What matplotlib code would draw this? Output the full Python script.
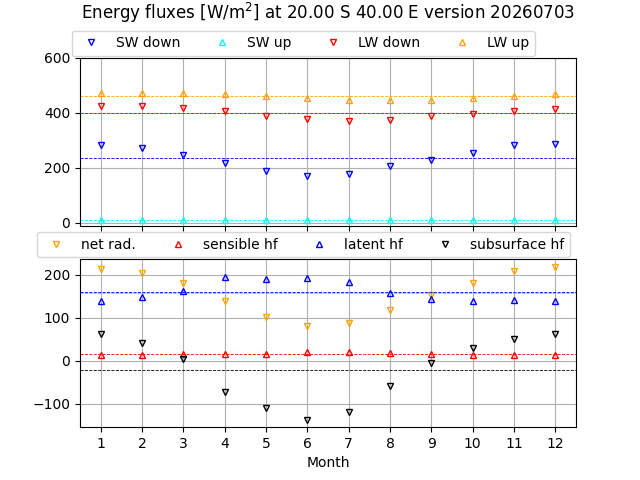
import numpy as np
import matplotlib
matplotlib.use('Agg')
import matplotlib.pyplot as plt

months = np.arange(1, 13)

# radiation components [W/m2]
sw_down = [281, 271, 248, 216, 187, 169, 179, 205, 228, 252, 281, 288]
sw_up = [9, 9, 9, 9, 9, 9, 9, 9, 9, 9, 9, 9]
lw_down = [423, 423, 418, 405, 387, 376, 368, 372, 387, 396, 405, 415]
lw_up = [471, 471, 471, 468, 459, 452, 445, 445, 445, 453, 459, 468]

# surface energy balance [W/m2]
net_rad = [214, 205, 182, 140, 103, 81, 89, 119, 153, 182, 210, 219]
sensible = [13, 13, 16, 16, 16, 20, 20, 17, 15, 13, 13, 13]
latent = [139, 148, 162, 196, 191, 193, 184, 157, 143, 140, 142, 140]
subsurface = [63, 42, 4, -73, -109, -137, -119, -58, -6, 29, 51, 63]

fig, (ax1, ax2) = plt.subplots(2, 1, figsize=(6.4, 4.8), dpi=100, sharex=True)

top_series = [
    (sw_down, 'v', 'blue', 'SW down'),
    (sw_up, '^', 'cyan', 'SW up'),
    (lw_down, 'v', 'red', 'LW down'),
    (lw_up, '^', 'orange', 'LW up'),
]
for vals, mk, col, lab in top_series:
    ax1.plot(months, vals, linestyle='none', marker=mk, mfc='none', mec=col,
             ms=5, label=lab)
    ax1.axhline(np.mean(vals), color=col, linestyle='--', linewidth=0.6)

bottom_series = [
    (net_rad, 'v', 'orange', 'net rad.'),
    (sensible, '^', 'red', 'sensible hf'),
    (latent, '^', 'blue', 'latent hf'),
    (subsurface, 'v', 'black', 'subsurface hf'),
]
for vals, mk, col, lab in bottom_series:
    ax2.plot(months, vals, linestyle='none', marker=mk, mfc='none', mec=col,
             ms=5, label=lab)
    ax2.axhline(np.mean(vals), color=col, linestyle='--', linewidth=0.6)

ax1.set_ylim(-10, 600)
ax1.set_yticks([0, 200, 400, 600])
ax2.set_xlim(0.5, 12.5)
ax2.set_xticks(months)
ax2.set_xlabel('Month')

for ax in (ax1, ax2):
    ax.grid(True, color='#b0b0b0')
    ax.legend(loc='center', bbox_to_anchor=(0.45, 1.085), ncol=4)

ax1.set_title('Energy fluxes [W/m$^2$] at 20.00 S 40.00 E version 20260703', pad=28)

plt.savefig('out.png', dpi=100)
